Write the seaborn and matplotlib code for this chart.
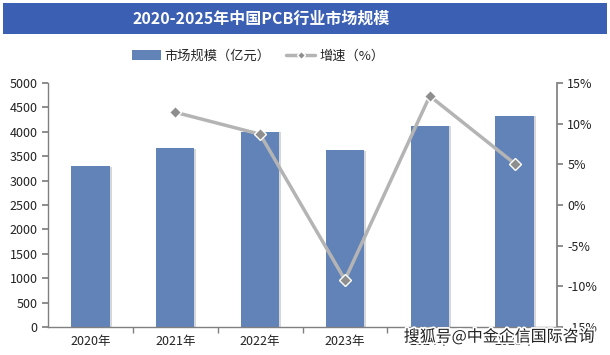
import numpy as np
import matplotlib
matplotlib.use("Agg")
import matplotlib.pyplot as plt
import matplotlib.patheffects as pe
from matplotlib.patches import Rectangle, Patch
from matplotlib.lines import Line2D
from matplotlib.ticker import FixedLocator, PercentFormatter
import seaborn as sns

years = ["2020年", "2021年", "2022年", "2023年", "2024年", "2025年"]
market_size = [3300, 3670, 4000, 3630, 4125, 4330]  # 亿元
growth = [np.nan, 11.4, 8.7, -9.2, 13.4, 5.1]  # %

bar_color = "#6283b8"
line_color = "#b4b4b4"
marker_color = "#8e8e8e"
axis_color = "#808080"

sns.set_theme(style="white")
plt.rcParams["font.family"] = ["Noto Sans CJK SC", "DejaVu Sans"]
plt.rcParams["axes.unicode_minus"] = False

fig = plt.figure(figsize=(6.1, 3.55), dpi=100)

# title banner
fig.patches.append(Rectangle((0.005, 1 - 34 / 355), 0.99, 31 / 355, transform=fig.transFigure,
                             facecolor="#3b5fb3", edgecolor="none", zorder=0))
fig.text(261 / 610, 1 - 18.5 / 355, "2020-2025年中国PCB行业市场规模", color="white",
         fontsize=11.5, fontweight="bold", ha="center", va="center")

ax = fig.add_axes([48 / 610, 28 / 355, 509 / 610, 244 / 355])
pos = np.arange(len(years))
sns.barplot(x=pos, y=market_size, ax=ax, color=bar_color, width=0.45, saturation=1,
            native_scale=True, linewidth=0)
for p in ax.patches:
    p.set_path_effects([pe.SimplePatchShadow(offset=(1.5, -0.5), shadow_rgbFace="#8a8f99", alpha=0.35),
                        pe.Normal()])

ax.set_xlim(-0.5, len(years) - 0.5)
ax.set_ylim(0, 5000)
ax.set_yticks(range(0, 5001, 500))
ax.set_xticks(pos)
ax.set_xticklabels(years)
ax.xaxis.set_minor_locator(FixedLocator(np.arange(0.5, len(years) - 0.5, 1)))
ax.tick_params(axis="x", which="major", length=0, labelsize=9, pad=6, colors="#222222")
ax.tick_params(axis="x", which="minor", length=4, direction="out", color=axis_color, bottom=True)
ax.tick_params(axis="y", length=4, direction="out", color=axis_color, labelsize=9,
               labelcolor="#222222", left=True)
ax.set_xlabel("")
ax.set_ylabel("")
for s in ["top", "right"]:
    ax.spines[s].set_visible(False)
for s in ["left", "bottom"]:
    ax.spines[s].set_color(axis_color)
    ax.spines[s].set_linewidth(1)

ax2 = ax.twinx()
mask = ~np.isnan(growth)
sns.lineplot(x=pos[mask], y=np.array(growth)[mask], ax=ax2, color=line_color, linewidth=2.5,
             marker="D", markersize=6, markerfacecolor=marker_color, markeredgecolor="white",
             markeredgewidth=1)
ax2.set_ylim(-15, 15)
ax2.set_yticks(range(-15, 16, 5))
ax2.yaxis.set_major_formatter(PercentFormatter(decimals=0))
ax2.tick_params(axis="y", length=4, direction="out", color=axis_color, labelsize=9,
                labelcolor="#222222", right=True)
for s in ["top", "left", "bottom"]:
    ax2.spines[s].set_visible(False)
ax2.spines["right"].set_color(axis_color)
ax2.grid(False)
ax.grid(False)

handles = [Patch(facecolor=bar_color, edgecolor="none"),
           Line2D([], [], color=line_color, linewidth=2.5, marker="D", markersize=4,
                  markerfacecolor=marker_color, markeredgecolor="white")]
fig.legend(handles, ["市场规模（亿元）", "增速（%）"], loc="center", ncol=2,
           bbox_to_anchor=(258 / 610, 1 - 56 / 355), frameon=False, fontsize=9.5,
           handlelength=2.2, columnspacing=1.2, handletextpad=0.3)

fig.text(0.975, 1 - 337 / 355, "搜狐号@中金企信国际咨询", fontsize=11.5, color="#222222",
         ha="right", va="center",
         path_effects=[pe.withStroke(linewidth=2.5, foreground="white")])

fig.savefig("out.png", dpi=100)
